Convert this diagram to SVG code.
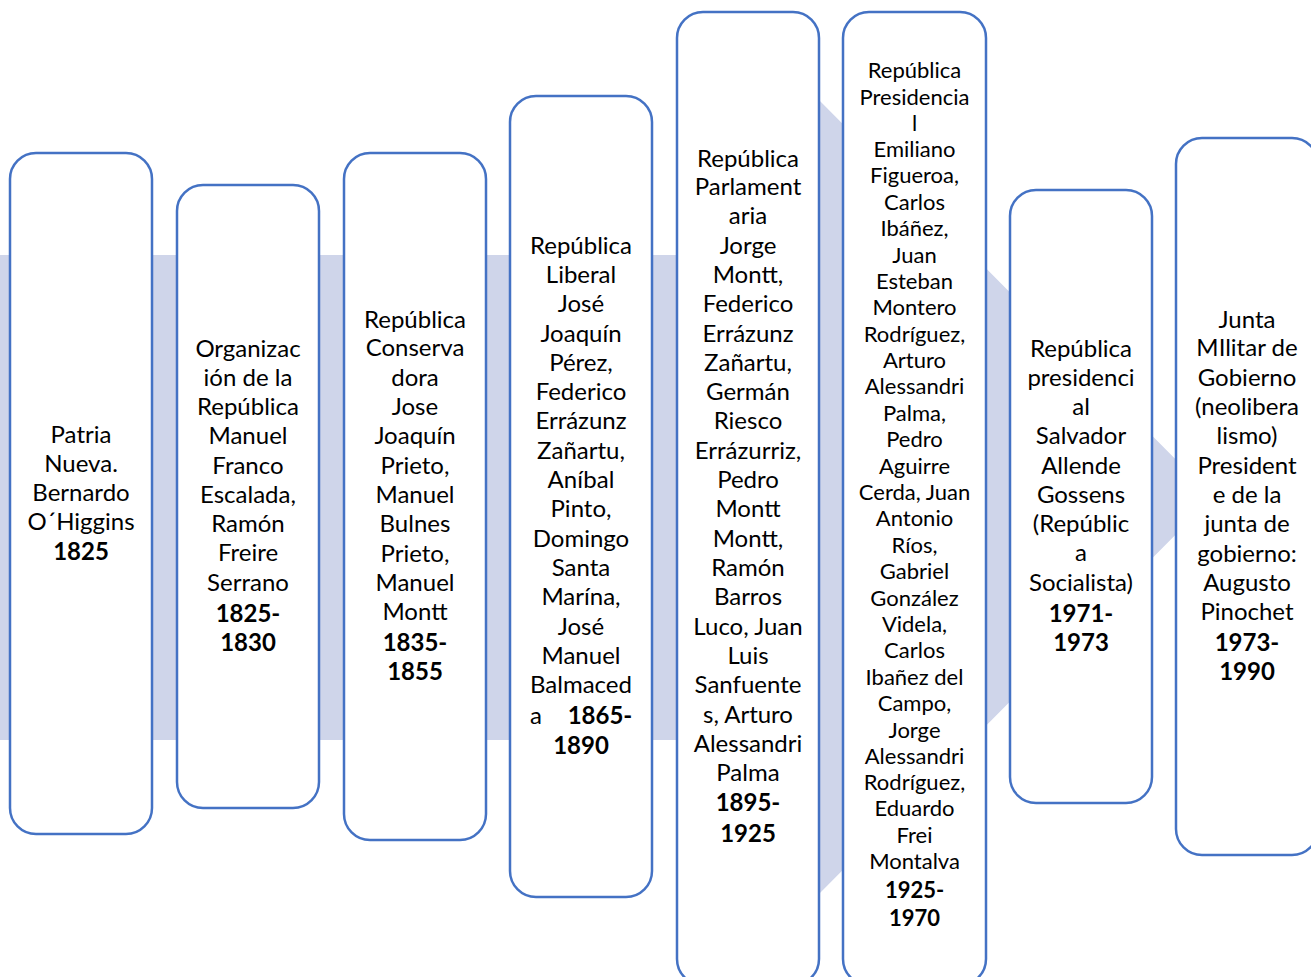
<svg xmlns="http://www.w3.org/2000/svg" width="1311" height="977" viewBox="0 0 1311 977">
<style>
.box{fill:#ffffff;stroke:#4472C4;stroke-width:2.5}
.t{font-family:Lato,"Liberation Sans",sans-serif;font-size:24px;fill:#000;text-anchor:middle}
.s{font-size:22px}
.b{font-weight:bold}
</style>
<g id="arrow">
<polygon points="0,255 816,255 816,97 1213,497 816,897 816,740 0,740" fill="#CFD5EA"/>
</g>
<g id="connectors"></g>
<g id="n1">
<rect class="box" x="10" y="153" width="142" height="681" rx="26"/>
<text class="t"><tspan x="81" y="443">Patria</tspan><tspan x="81" y="472">Nueva.</tspan><tspan x="81" y="501">Bernardo</tspan><tspan x="81" y="530">O´Higgins</tspan><tspan x="81" y="560" class="b">1825</tspan></text>
</g>
<g id="n2">
<rect class="box" x="177" y="185" width="142" height="623" rx="26"/>
<text class="t"><tspan x="248" y="357">Organizac</tspan><tspan x="248" y="386">ión de la</tspan><tspan x="248" y="415">República</tspan><tspan x="248" y="444">Manuel</tspan><tspan x="248" y="474">Franco</tspan><tspan x="248" y="503">Escalada,</tspan><tspan x="248" y="532">Ramón</tspan><tspan x="248" y="561">Freire</tspan><tspan x="248" y="591">Serrano</tspan><tspan x="248" y="622" class="b">1825-</tspan><tspan x="248" y="651" class="b">1830</tspan></text>
</g>
<g id="n3">
<rect class="box" x="344" y="153" width="142" height="687" rx="26"/>
<text class="t"><tspan x="415" y="328">República</tspan><tspan x="415" y="356">Conserva</tspan><tspan x="415" y="386">dora</tspan><tspan x="415" y="415">Jose</tspan><tspan x="415" y="444">Joaquín</tspan><tspan x="415" y="474">Prieto,</tspan><tspan x="415" y="503">Manuel</tspan><tspan x="415" y="532">Bulnes</tspan><tspan x="415" y="562">Prieto,</tspan><tspan x="415" y="591">Manuel</tspan><tspan x="415" y="620">Montt</tspan><tspan x="415" y="651" class="b">1835-</tspan><tspan x="415" y="680" class="b">1855</tspan></text>
</g>
<g id="n4">
<rect class="box" x="510" y="96" width="142" height="801" rx="26"/>
<text class="t"><tspan x="581" y="254">República</tspan><tspan x="581" y="283">Liberal</tspan><tspan x="581" y="312">José</tspan><tspan x="581" y="342">Joaquín</tspan><tspan x="581" y="371">Pérez,</tspan><tspan x="581" y="400">Federico</tspan><tspan x="581" y="429">Errázunz</tspan><tspan x="581" y="459">Zañartu,</tspan><tspan x="581" y="488">Aníbal</tspan><tspan x="581" y="517">Pinto,</tspan><tspan x="581" y="547">Domingo</tspan><tspan x="581" y="576">Santa</tspan><tspan x="581" y="605">Marína,</tspan><tspan x="581" y="635">José</tspan><tspan x="581" y="664">Manuel</tspan><tspan x="581" y="693">Balmaced</tspan><tspan x="536" y="724">a</tspan><tspan x="600" y="724" class="b">1865-</tspan><tspan x="581" y="754" class="b">1890</tspan></text>
</g>
<g id="n5">
<rect class="box" x="677" y="12" width="142" height="973" rx="26"/>
<text class="t"><tspan x="748" y="167">República</tspan><tspan x="748" y="195">Parlament</tspan><tspan x="748" y="224">aria</tspan><tspan x="748" y="254">Jorge</tspan><tspan x="748" y="283">Montt,</tspan><tspan x="748" y="312">Federico</tspan><tspan x="748" y="342">Errázunz</tspan><tspan x="748" y="371">Zañartu,</tspan><tspan x="748" y="400">Germán</tspan><tspan x="748" y="429">Riesco</tspan><tspan x="748" y="459">Errázurriz,</tspan><tspan x="748" y="488">Pedro</tspan><tspan x="748" y="517">Montt</tspan><tspan x="748" y="547">Montt,</tspan><tspan x="748" y="576">Ramón</tspan><tspan x="748" y="605">Barros</tspan><tspan x="748" y="635">Luco, Juan</tspan><tspan x="748" y="664">Luis</tspan><tspan x="748" y="693">Sanfuente</tspan><tspan x="748" y="723">s, Arturo</tspan><tspan x="748" y="752">Alessandri</tspan><tspan x="748" y="781">Palma</tspan><tspan x="748" y="811" class="b">1895-</tspan><tspan x="748" y="842" class="b">1925</tspan></text>
</g>
<g id="n6">
<rect class="box" x="843" y="12" width="143" height="973" rx="26"/>
<text class="t s"><tspan x="914.5" y="78">República</tspan><tspan x="914.5" y="105">Presidencia</tspan><tspan x="914.5" y="131">l</tspan><tspan x="914.5" y="157">Emiliano</tspan><tspan x="914.5" y="183">Figueroa,</tspan><tspan x="914.5" y="210">Carlos</tspan><tspan x="914.5" y="236">Ibáñez,</tspan><tspan x="914.5" y="263">Juan</tspan><tspan x="914.5" y="289">Esteban</tspan><tspan x="914.5" y="315">Montero</tspan><tspan x="914.5" y="342">Rodríguez,</tspan><tspan x="914.5" y="368">Arturo</tspan><tspan x="914.5" y="394">Alessandri</tspan><tspan x="914.5" y="421">Palma,</tspan><tspan x="914.5" y="447">Pedro</tspan><tspan x="914.5" y="474">Aguirre</tspan><tspan x="914.5" y="500">Cerda, Juan</tspan><tspan x="914.5" y="526">Antonio</tspan><tspan x="914.5" y="553">Ríos,</tspan><tspan x="914.5" y="579">Gabriel</tspan><tspan x="914.5" y="606">González</tspan><tspan x="914.5" y="632">Videla,</tspan><tspan x="914.5" y="658">Carlos</tspan><tspan x="914.5" y="685">Ibañez del</tspan><tspan x="914.5" y="711">Campo,</tspan><tspan x="914.5" y="738">Jorge</tspan><tspan x="914.5" y="764">Alessandri</tspan><tspan x="914.5" y="790">Rodríguez,</tspan><tspan x="914.5" y="816">Eduardo</tspan><tspan x="914.5" y="843">Frei</tspan><tspan x="914.5" y="869">Montalva</tspan><tspan x="914.5" y="898" class="b">1925-</tspan><tspan x="914.5" y="926" class="b">1970</tspan></text>
</g>
<g id="n7">
<rect class="box" x="1010" y="190" width="142" height="613" rx="26"/>
<text class="t"><tspan x="1081" y="357">República</tspan><tspan x="1081" y="386">presidenci</tspan><tspan x="1081" y="415">al</tspan><tspan x="1081" y="444">Salvador</tspan><tspan x="1081" y="474">Allende</tspan><tspan x="1081" y="503">Gossens</tspan><tspan x="1081" y="532">(Repúblic</tspan><tspan x="1081" y="561">a</tspan><tspan x="1081" y="591">Socialista)</tspan><tspan x="1081" y="622" class="b">1971-</tspan><tspan x="1081" y="651" class="b">1973</tspan></text>
</g>
<g id="n8">
<rect class="box" x="1176" y="138" width="142" height="717" rx="26"/>
<text class="t"><tspan x="1247" y="328">Junta</tspan><tspan x="1247" y="356">MIlitar de</tspan><tspan x="1247" y="386">Gobierno</tspan><tspan x="1247" y="415">(neolibera</tspan><tspan x="1247" y="444">lismo)</tspan><tspan x="1247" y="474">President</tspan><tspan x="1247" y="503">e de la</tspan><tspan x="1247" y="532">junta de</tspan><tspan x="1247" y="562">gobierno:</tspan><tspan x="1247" y="591">Augusto</tspan><tspan x="1247" y="620">Pinochet</tspan><tspan x="1247" y="651" class="b">1973-</tspan><tspan x="1247" y="680" class="b">1990</tspan></text>
</g>
</svg>
